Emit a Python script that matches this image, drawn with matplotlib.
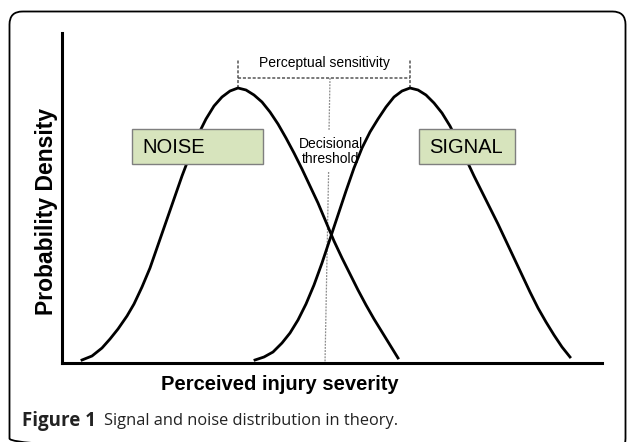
import matplotlib.pyplot as plt
from matplotlib.patches import FancyBboxPatch, Rectangle

# curve points (x: severity, y: density, arbitrary units)
noise_x = [20, 30, 40, 48, 56, 65, 72, 80, 88, 96, 104, 112, 120, 128, 136, 144, 152, 160, 168, 176,
           184, 192, 200, 208, 216, 224, 232, 240, 248, 256, 264, 272, 280, 288, 296, 304, 312, 320, 328, 336]
noise_y = [3, 7, 15, 24, 34, 47, 59, 76, 95, 118, 141, 164, 187, 208, 228, 244, 257, 266, 272, 275,
           273, 268, 261, 251, 239, 225, 210, 194, 177, 160, 141, 122, 105, 89, 73, 58, 44, 31, 18, 5]

signal_x = [193, 202, 211, 220, 228, 236, 244, 252, 260, 268, 276, 284, 292, 300, 308, 316, 324, 332, 340, 348,
            356, 364, 372, 380, 388, 396, 404, 412, 420, 428, 436, 444, 452, 460, 468, 476, 484, 492, 500, 508]
signal_y = [3, 6, 11, 20, 30, 43, 59, 78, 100, 124, 148, 172, 195, 215, 231, 244, 256, 266, 272, 275,
            273, 268, 260, 250, 237, 221, 204, 187, 171, 155, 139, 122, 105, 88, 71, 55, 41, 28, 16, 6]

peaks = [176, 348]
threshold_x = [268, 263]

label_font = 'Liberation Sans'

fig = plt.figure(figsize=(6.27, 4.42), dpi=100)

# background layer in pixel coordinates for the frame and caption
bg = fig.add_axes([0, 0, 1, 1])
bg.set_xlim(0, 627)
bg.set_ylim(442, 0)
bg.axis('off')
bg.add_patch(FancyBboxPatch((9.5, 11.5), 616, 440, boxstyle='round,pad=0,rounding_size=13',
                            fill=False, lw=1.3, ec='black'))
bg.text(22, 421, 'Figure 1', fontsize=13.5, fontweight='bold', family='Open Sans',
        color='#222222', va='center', ha='left')
bg.text(104, 421, 'Signal and noise distribution in theory.', fontsize=11.8, family='Open Sans',
        color='#222222', va='center', ha='left')

# main plot: x = px - 62, y = 363 - py
ax = fig.add_axes([62 / 627, 79 / 442, 540 / 627, 330 / 442])
ax.set_xlim(0, 540)
ax.set_ylim(0, 330)
ax.patch.set_alpha(0)
for s in ['top', 'right']:
    ax.spines[s].set_visible(False)
ax.spines['left'].set_linewidth(2.2)
ax.spines['bottom'].set_linewidth(2.2)
ax.set_xticks([])
ax.set_yticks([])

ax.plot(noise_x, noise_y, color='black', lw=2.0, zorder=3, solid_joinstyle='round')
ax.plot(signal_x, signal_y, color='black', lw=2.0, zorder=3, solid_joinstyle='round')

# perceptual sensitivity bracket
dash = dict(color='#555555', lw=1.1, ls=(0, (2, 1.2)), clip_on=False)
for p in peaks:
    ax.plot([p, p], [275, 303], **dash)
ax.plot(peaks, [285, 285], **dash)
ax.text(sum(peaks) / 2, 300, 'Perceptual sensitivity', family=label_font, fontsize=10,
        ha='center', va='center')

# decisional threshold
dot = dict(color='#8c8c8c', lw=0.9, ls=(0, (1.5, 1)), zorder=1)
ax.plot([threshold_x[0], 267], [285, 232], **dot)
ax.plot([266.6, threshold_x[1]], [191, 0], **dot)
ax.text(269, 211.5, 'Decisional\nthreshold', family=label_font, fontsize=10,
        ha='center', va='center', linespacing=1.15, zorder=2)

# labelled boxes
box_col = '#d7e4bd'
ax.add_patch(Rectangle((70, 199), 131, 35, fc=box_col, ec='#7f7f7f', lw=1, zorder=4))
ax.text(80, 215.5, 'NOISE', family=label_font, fontsize=14.5, ha='left', va='center', zorder=5)
ax.add_patch(Rectangle((357, 199), 96, 35, fc=box_col, ec='#7f7f7f', lw=1, zorder=4))
ax.text(367, 215.5, 'SIGNAL', family=label_font, fontsize=14.5, ha='left', va='center', zorder=5)

fig.text(280 / 627, 1 - 385 / 442, 'Perceived injury severity', family=label_font,
         fontsize=14.5, fontweight='bold', ha='center', va='center')
fig.text(46.5 / 627, 1 - 211 / 442, 'Probability Density', family=label_font,
         fontsize=16.5, fontweight='bold', ha='center', va='center', rotation=90)

fig.savefig('out.png', dpi=100)
